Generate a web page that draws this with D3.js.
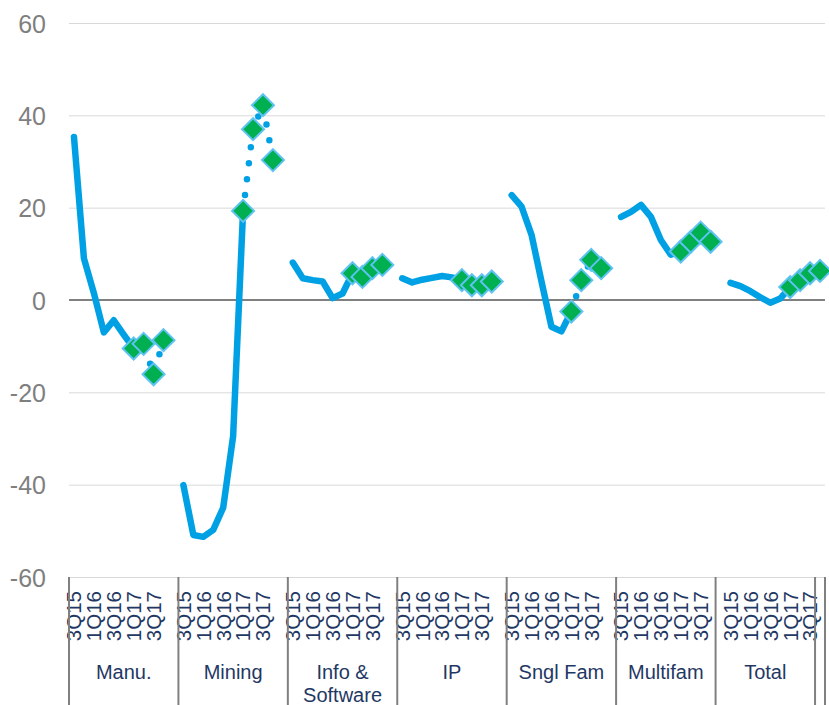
<!DOCTYPE html>
<html>
<head>
<meta charset="utf-8">
<script src="https://cdn.jsdelivr.net/npm/d3@7"></script>
<style>
  html, body { margin: 0; padding: 0; background: #fff; }
  svg { display: block; }
  text { font-family: "Liberation Sans", Arial, sans-serif; }
</style>
</head>
<body>
<svg id="chart" width="829" height="705"></svg>
<script>
// ---------------- DATA ----------------
const sectorNames = ["Manu.", "Mining", "Info & Software", "IP", "Sngl Fam", "Multifam", "Total"];
const quarters = ["3Q15", "4Q15", "1Q16", "2Q16", "3Q16", "4Q16", "1Q17", "2Q17", "3Q17", "4Q17"];
const quarterTickLabels = ["3Q15", "1Q16", "3Q16", "1Q17", "3Q17"];

// actual (solid line) values, 3Q15 .. 1Q17
const manuActual   = [35.3, 9.0, 1.5, -7.0, -4.4, -7.5, -10.5];
const miningActual = [-40.1, -50.9, -51.3, -49.8, -45.0, -29.5, 19.3];
const infoActual   = [8.1, 4.7, 4.3, 4.0, 0.4, 1.4, 5.8];
const ipActual     = [4.7, 3.8, 4.4, 4.8, 5.2, 4.9, 4.3];
const snglActual   = [22.7, 20.2, 14.1, 4.0, -5.8, -6.8, -2.5];
const multiActual  = [18.0, 19.1, 20.6, 18.0, 13.0, 9.8, 10.5];
const totalActual  = [3.7, 3.0, 1.9, 0.6, -0.6, 0.3, 2.8];

// forecast (dotted line + diamonds) values, 1Q17 .. 4Q17
const manuForecast   = [-10.5, -9.5, -16.1, -8.7];
const miningForecast = [19.3, 37.0, 42.2, 30.3];
const infoForecast   = [5.8, 5.0, 6.9, 7.6];
const ipForecast     = [4.3, 3.2, 3.2, 4.0];
const snglForecast   = [-2.5, 4.3, 8.7, 6.9];
const multiForecast  = [10.5, 12.6, 14.6, 12.6];
const totalForecast  = [2.8, 4.3, 5.8, 6.3];

// category-axis group structure (second label level)
const axisGroupNames = ["Manu.", "Mining", "Info &\nSoftware", "IP", "Sngl Fam", "Multifam", "Total", ""];
const axisGroupSizes = [11, 11, 11, 11, 11, 10, 10, 1];
const slotsPerSector = 11;
const forecastStart = 6;
const yTicks = [-60, -40, -20, 0, 20, 40, 60];

const actualSets = [manuActual, miningActual, infoActual, ipActual, snglActual, multiActual, totalActual];
const forecastSets = [manuForecast, miningForecast, infoForecast, ipForecast, snglForecast, multiForecast, totalForecast];

// ---------------- LAYOUT ----------------
const W = 829, H = 705;
const plotLeft = 69, plotRight = 825, plotTop = 23, plotBottom = 577;
const nSlots = d3.sum(axisGroupSizes);

const svg = d3.select("#chart");
const x = d3.scaleBand().domain(d3.range(nSlots)).range([plotLeft, plotRight]).padding(0);
const cx = i => x(i) + x.bandwidth() / 2;
const y = d3.scaleLinear().domain([-60, 60]).range([plotBottom, plotTop]);

const FONT = '"Liberation Sans", Arial, sans-serif';
const BLUE = "#00A1E4";

// gridlines + y labels
const yAxis = d3.axisLeft(y).tickValues(yTicks).tickSize(-(plotRight - plotLeft)).tickPadding(23)
  .tickFormat(d => String(d));
const yg = svg.append("g").attr("transform", `translate(${plotLeft},0)`).call(yAxis);
yg.select(".domain").remove();
yg.selectAll(".tick line").attr("stroke", "#D9D9D9").attr("stroke-width", 1);
yg.selectAll(".tick text").attr("fill", "#7F7F7F").style("font-size", "25px")
  .style("font-family", FONT).attr("dy", "0.36em");

// zero line
svg.append("line").attr("x1", plotLeft).attr("x2", plotRight).attr("y1", y(0)).attr("y2", y(0))
  .attr("stroke", "#808080").attr("stroke-width", 2);

// build series
const actualPts = [], forecastPts = [];
actualSets.forEach((arr, s) => {
  actualPts.push(arr.map((v, q) => ({ i: s * slotsPerSector + q, v, label: quarters[q] })));
});
forecastSets.forEach((arr, s) => {
  forecastPts.push(arr.map((v, k) => ({ i: s * slotsPerSector + forecastStart + k, v, label: quarters[forecastStart + k] })));
});

const line = d3.line().x(d => cx(d.i)).y(d => y(d.v));

svg.append("g").selectAll("path").data(actualPts).join("path")
  .attr("d", line).attr("fill", "none").attr("stroke", BLUE).attr("stroke-width", 6.5)
  .attr("stroke-linecap", "round").attr("stroke-linejoin", "round");

svg.append("g").selectAll("path").data(forecastPts).join("path")
  .attr("d", line).attr("fill", "none").attr("stroke", BLUE).attr("stroke-width", 6.5)
  .attr("stroke-linecap", "round").attr("stroke-dasharray", "0 16");

const dh = 11;
svg.append("g").selectAll("path").data(forecastPts.flat()).join("path")
  .attr("d", `M0,${-dh}L${dh},0L0,${dh}L${-dh},0Z`)
  .attr("transform", d => `translate(${cx(d.i)},${y(d.v)})`)
  .attr("fill", "#00B050").attr("stroke", "#5EC3F2").attr("stroke-width", 2);

// quarter tick labels (rotated)
const tickSlots = [];
sectorNames.forEach((name, s) => {
  quarterTickLabels.forEach(lbl => {
    const q = quarters.indexOf(lbl);
    tickSlots.push({ i: s * slotsPerSector + q, lbl });
  });
});
const xAxis = d3.axisBottom(x).tickValues(tickSlots.map(d => d.i))
  .tickFormat(i => tickSlots.find(d => d.i === i).lbl).tickSize(0);
const xg = svg.append("g").attr("transform", `translate(0,${plotBottom})`).call(xAxis);
xg.select(".domain").remove();
xg.selectAll(".tick text")
  .attr("transform", "rotate(-90)")
  .attr("x", -14).attr("y", 0).attr("dy", "0.36em")
  .attr("text-anchor", "end")
  .attr("fill", "#1F3864").style("font-size", "20.5px").style("font-family", FONT);

// group separators + group names
let acc = 0;
const bounds = [0];
axisGroupSizes.forEach(n => { acc += n; bounds.push(acc); });
const edgeX = k => plotLeft + k * x.bandwidth();
svg.append("g").selectAll("line").data(bounds).join("line")
  .attr("x1", k => edgeX(k)).attr("x2", k => edgeX(k))
  .attr("y1", plotBottom).attr("y2", H)
  .attr("stroke", "#808080").attr("stroke-width", 2);

const gl = svg.append("g");
axisGroupNames.forEach((name, g) => {
  if (!name) return;
  const mid = (edgeX(bounds[g]) + edgeX(bounds[g + 1])) / 2;
  const lines = name.split("\n");
  const t = gl.append("text").attr("x", mid).attr("y", 678.5)
    .attr("text-anchor", "middle").attr("fill", "#1F3864")
    .style("font-size", "20px").style("font-family", FONT);
  lines.forEach((ln, j) => {
    t.append("tspan").attr("x", mid).attr("dy", j === 0 ? 0 : 23.5).text(ln);
  });
});
</script>
</body>
</html>
